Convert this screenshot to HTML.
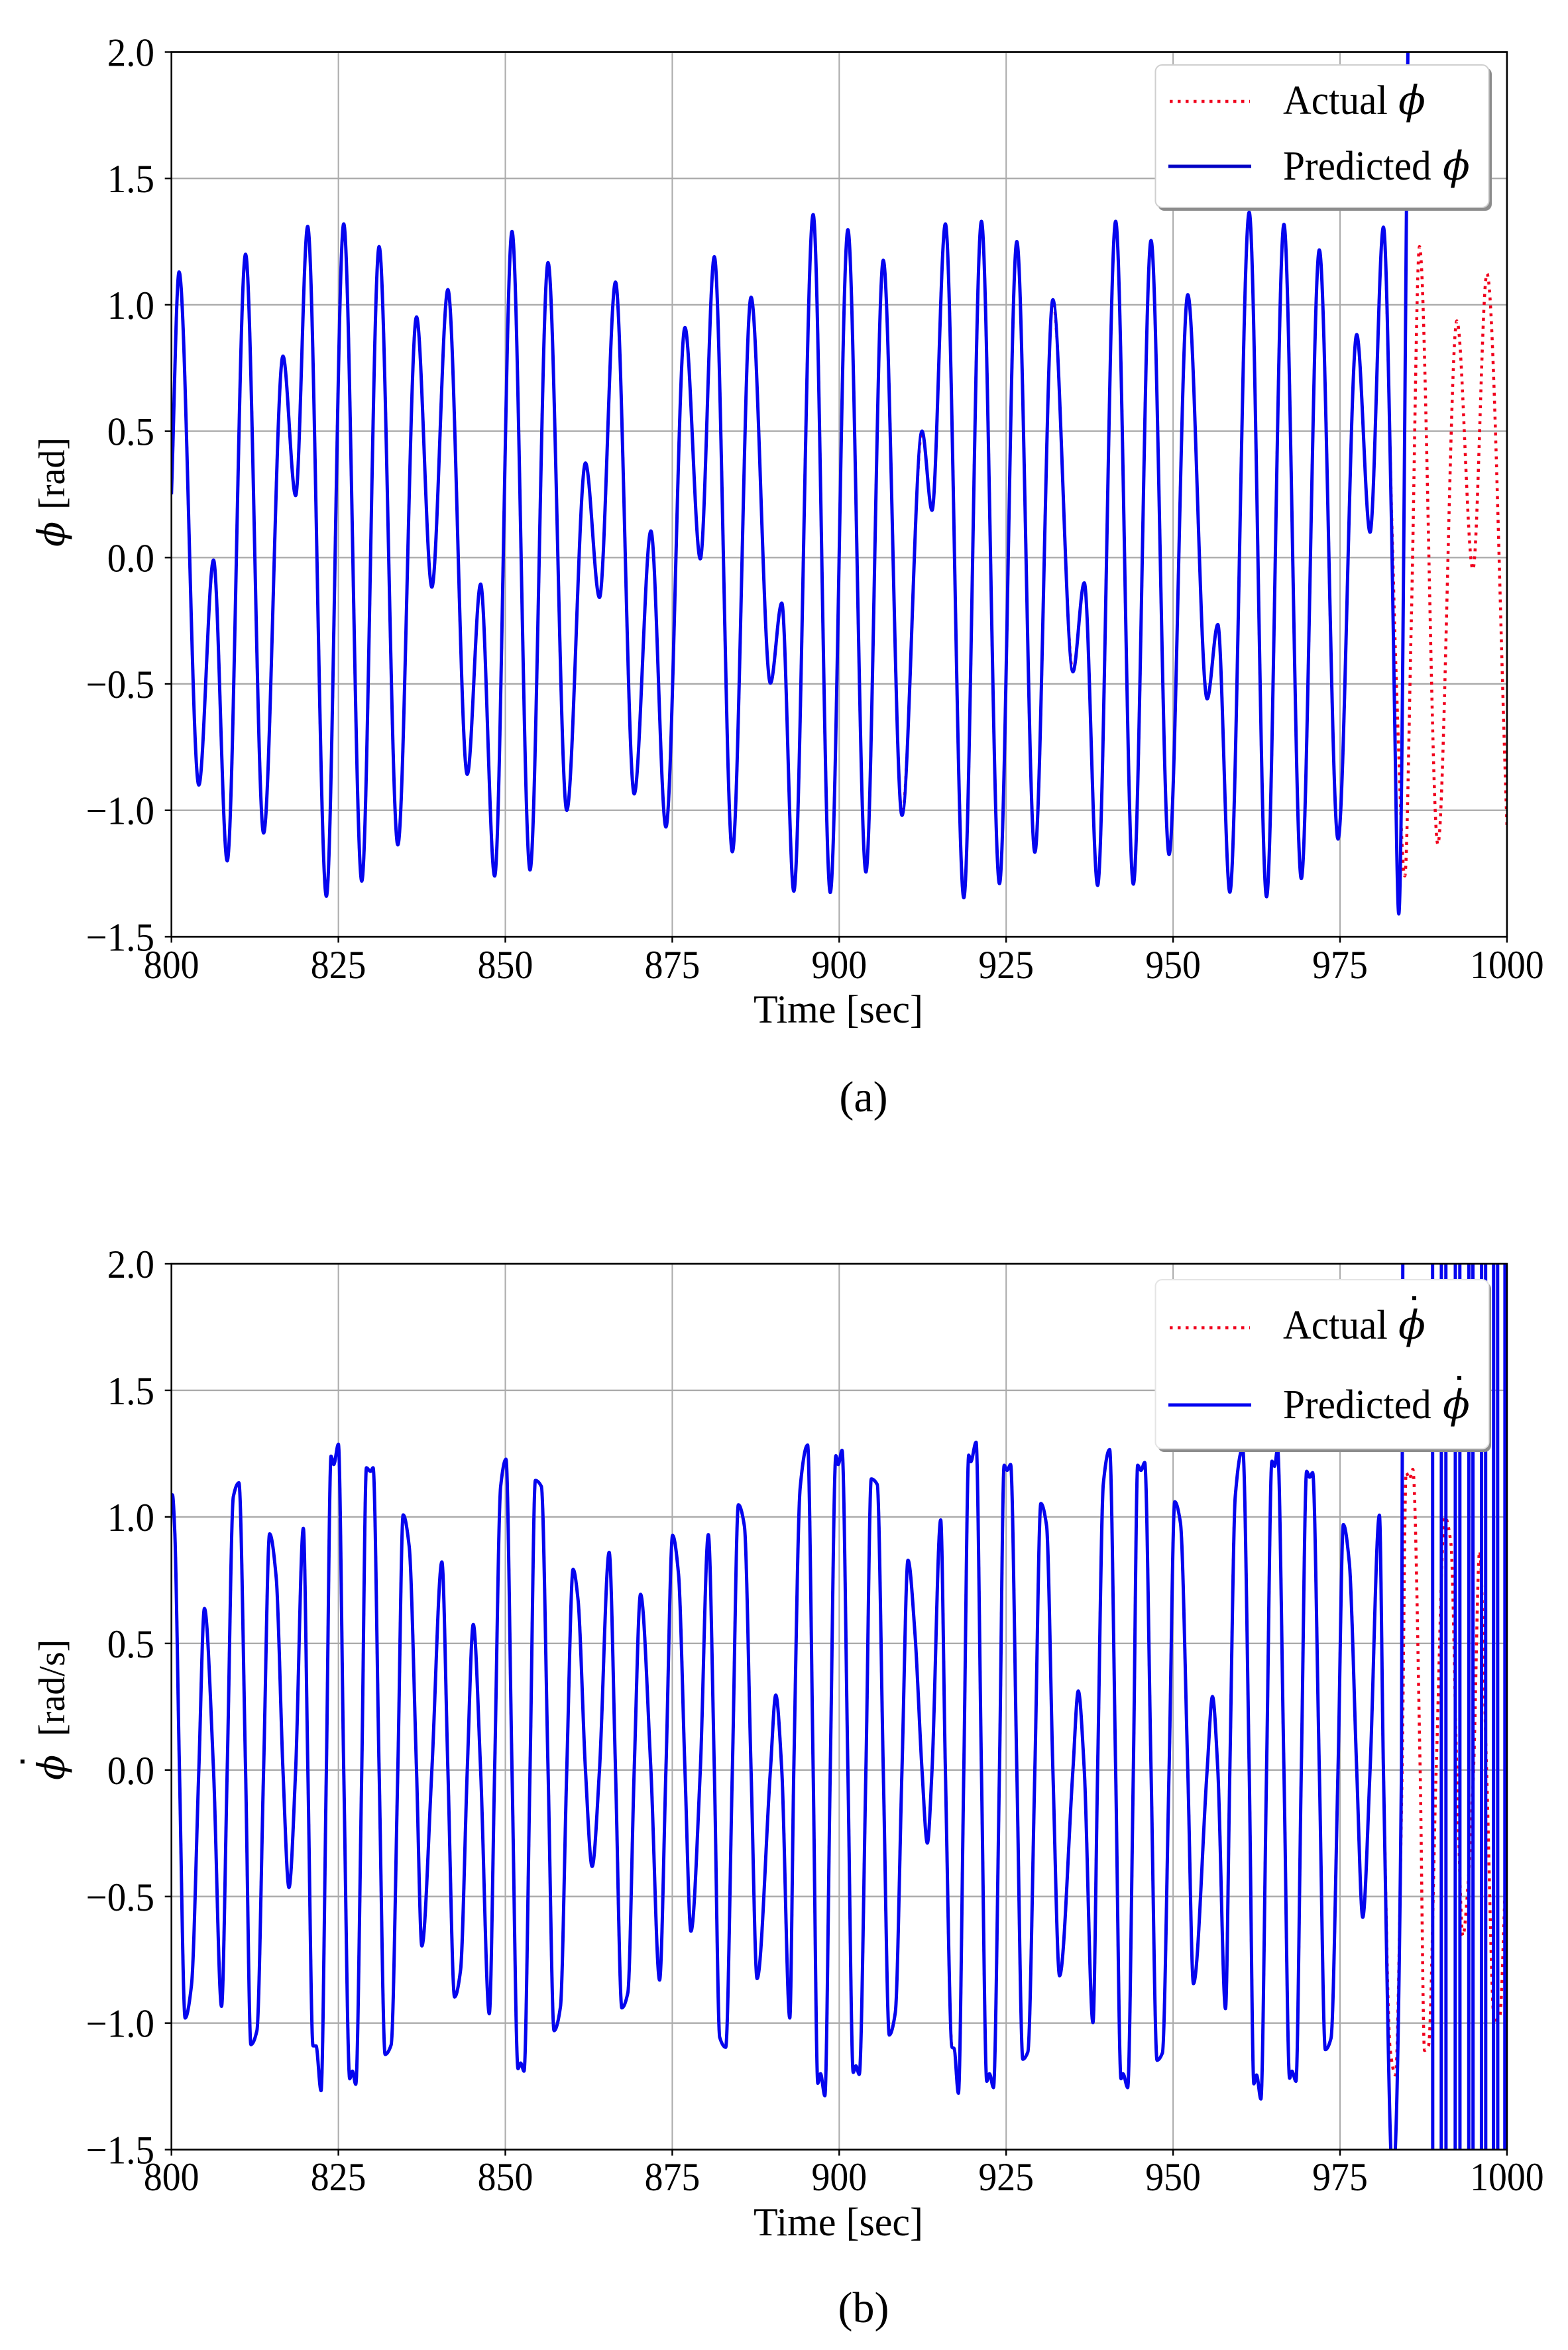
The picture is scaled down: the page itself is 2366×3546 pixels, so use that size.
<!DOCTYPE html>
<html lang="en">
<head>
<meta charset="utf-8">
<title>Actual and predicted roll angle and roll rate</title>
<style>
  html, body { margin: 0; padding: 0; background: #fff; width: 2366px; height: 3546px; overflow: hidden; }
  svg { display: block; overflow: hidden; }
  text { font-family: "Liberation Serif", "DejaVu Serif", serif; fill: #000; }
  .sym { font-family: "DejaVu Serif", "Liberation Serif", serif; font-style: italic; }
</style>
</head>
<body>
<svg id="figure" xmlns="http://www.w3.org/2000/svg" width="2366" height="3546" viewBox="0 0 2366 3546">
  <rect width="2366" height="3546" fill="#fff"/>
  <defs>
    <clipPath id="clip-a"><rect x="258.7" y="78.5" width="2015.2" height="1334.9"/></clipPath>
    <clipPath id="clip-b"><rect x="258.7" y="1907" width="2015.2" height="1336.6"/></clipPath>
  </defs>
  <g id="panel-a"></g>
  <g id="panel-b"></g>

  <g>
    <rect x="1747" y="102" width="504" height="216" rx="10" fill="#8c8c8c"/>
    <rect x="1743.5" y="98" width="503" height="215" rx="10" fill="#fff" stroke="#cfcfcf" stroke-width="2"/>
    <line x1="1765" y1="153" x2="1886" y2="153" stroke="#f0001c" stroke-width="4.5" stroke-dasharray="4.5 7.5"/>
    <text transform="translate(1936,172) scale(0.94,1)" font-size="63">Actual</text>
    <text class="sym" x="2110" y="172" font-size="60">ϕ</text>
    <line x1="1763" y1="251" x2="1888" y2="251" stroke="#0000c4" stroke-width="5"/>
    <text transform="translate(1936,271) scale(0.94,1)" font-size="63">Predicted</text>
    <text class="sym" x="2177" y="271" font-size="60">ϕ</text>
  </g>

  <g>
    <rect x="1747" y="1935" width="503" height="256" rx="10" fill="#8c8c8c"/>
    <rect x="1743.5" y="1931" width="503" height="255" rx="10" fill="#fff" stroke="#e4e4e4" stroke-width="2"/>
    <line x1="1765" y1="2003.5" x2="1886" y2="2003.5" stroke="#f0001c" stroke-width="4.5" stroke-dasharray="4.5 7.5"/>
    <text transform="translate(1936,2020) scale(0.94,1)" font-size="63">Actual</text>
    <text class="sym" x="2110" y="2020" font-size="60">ϕ</text>
    <rect x="2131" y="1956" width="6" height="6" fill="#000"/>
    <line x1="1763" y1="2120" x2="1888" y2="2120" stroke="#0000f0" stroke-width="5"/>
    <text transform="translate(1936,2140) scale(0.94,1)" font-size="63">Predicted</text>
    <text class="sym" x="2177" y="2140" font-size="60">ϕ</text>
    <rect x="2199" y="2076" width="6" height="6" fill="#000"/>
  </g>

  <text x="1303" y="1677" font-size="66" text-anchor="middle">(a)</text>
  <text x="1303" y="3504" font-size="66" text-anchor="middle">(b)</text>
</svg>

<script>
// ---- axis data ----
const timeTicks = [800, 825, 850, 875, 900, 925, 950, 975, 1000];
const valueTicks = [2.0, 1.5, 1.0, 0.5, 0.0, -0.5, -1.0, -1.5];

// ---- phi [rad]: [time, value] ----
// stretch where actual and predicted overlap
const phiShared = [[800,0.25],[801.14,1.13],[804.1,-0.9],[806.3,-0.01],[808.35,-1.2],[811.1,1.2],[813.8,-1.09],[816.7,0.797],[818.6,0.245],[820.4,1.31],[823.2,-1.34],[825.8,1.32],[828.5,-1.28],[831.1,1.23],[833.9,-1.137],[836.7,0.952],[839,-0.117],[841.4,1.06],[844.3,-0.858],[846.3,-0.105],[848.4,-1.26],[851,1.29],[853.7,-1.236],[856.4,1.167],[859.2,-1],[862,0.374],[864.1,-0.158],[866.5,1.09],[869.3,-0.935],[871.8,0.105],[874.05,-1.066],[876.9,0.91],[879.2,-0.005],[881.3,1.19],[884,-1.164],[886.8,1.03],[889.7,-0.497],[891.4,-0.18],[893.2,-1.32],[896.1,1.357],[898.66,-1.325],[901.3,1.297],[904,-1.244],[906.6,1.176],[909.4,-1.02],[912.4,0.5],[913.9,0.187],[915.9,1.32],[918.66,-1.346],[921.3,1.33],[924,-1.29],[926.6,1.25],[929.3,-1.166],[932,1.02],[935,-0.452],[936.7,-0.1],[938.7,-1.297],[941.4,1.33],[944.05,-1.292],[946.7,1.254],[949.4,-1.175],[952.2,1.04],[955.1,-0.559],[956.7,-0.265],[958.5,-1.324],[961.4,1.366],[964,-1.342],[966.6,1.318],[969.2,-1.27],[971.9,1.217],[974.7,-1.114],[977.5,0.882],[979.5,0.1],[981.5,1.307]];
const phiPredictedTail = [[982.75,0.08],[983.1,-0.5],[983.8,-1.41],[985.2,2.1]];
const phiActualTail = [[982.8,0.1],[983.45,-0.5],[984.7,-1.26],[985.67,-0.26],[986.9,1.23],[989.65,-1.134],[992.5,0.936],[994.9,-0.047],[997,1.123],[1000,-1.06]];

// ---- phi-dot [rad/s]: [time, value] ----
const rateShared = [[800,1.05],[800.15,1.087],[800.5,0.94],[801.2,0],[802.05,-0.98],[803,-0.85],[804.1,0],[804.94,0.638],[806.3,0],[807.5,-0.934],[808.35,0],[809.27,1.08],[810.1,1.135],[811.1,0],[811.9,-1.085],[812.8,-1.03],[813.8,0],[814.7,0.933],[815.7,0.757],[816.7,0],[817.6,-0.464],[818.6,0],[819.75,0.955],[820.43,0],[821.2,-1.09],[821.65,-1.09],[822.4,-1.267],[823.2,0],[823.9,1.24],[824.3,1.207],[825,1.287],[825.8,0],[826.7,-1.22],[827.1,-1.19],[827.6,-1.242],[828.5,0],[829.2,1.194],[829.8,1.18],[830.2,1.194],[831.1,0],[832,-1.124],[832.9,-1.086],[833.9,0],[834.7,1.008],[835.6,0.884],[836.7,0],[837.5,-0.695],[839,0],[840.5,0.822],[841.4,0],[842.4,-0.897],[843.3,-0.79],[844.3,0],[845.2,0.575],[846.3,0],[847.6,-0.963],[848.4,0],[849.3,1.12],[850.1,1.228],[851,0],[851.9,-1.18],[852.3,-1.158],[852.8,-1.19],[853.7,0],[854.5,1.144],[855.4,1.12],[856.4,0],[857.3,-1.03],[858.25,-0.937],[859.2,0],[860.15,0.793],[860.9,0.67],[862,0],[863,-0.381],[864.1,0],[865.55,0.86],[866.5,0],[867.45,-0.94],[868.35,-0.88],[869.3,0],[870.25,0.694],[871.8,0],[873.1,-0.83],[874.05,0],[875.05,0.927],[875.95,0.77],[876.9,0],[877.8,-0.637],[879.2,0],[880.4,0.93],[881.3,0],[882.1,-1.056],[883,-1.096],[884,0],[884.9,1.048],[885.8,0.964],[886.8,0],[887.7,-0.824],[889.7,0],[890.5,0.296],[891.4,0],[892.6,-0.98],[893.2,0],[894.16,1.117],[895.27,1.284],[896.1,0],[896.8,-1.238],[897.2,-1.2],[897.85,-1.287],[898.66,0],[899.5,1.242],[899.85,1.207],[900.43,1.263],[901.3,0],[902.1,-1.195],[902.5,-1.169],[903,-1.203],[904,0],[904.8,1.15],[905.7,1.128],[906.6,0],[907.5,-1.047],[908.4,-0.959],[909.4,0],[910.3,0.829],[911.35,0.537],[912.4,0],[913.2,-0.289],[913.9,0],[915.2,0.988],[915.9,0],[916.9,-1.096],[917.2,-1.1],[917.85,-1.277],[918.66,0],[919.4,1.244],[919.7,1.218],[920.5,1.295],[921.3,0],[922.1,-1.23],[922.5,-1.2],[923.1,-1.255],[924,0],[924.7,1.204],[925.15,1.184],[925.67,1.207],[926.6,0],[927.5,-1.143],[928.25,-1.114],[929.3,0],[930.2,1.053],[931.06,0.964],[932,0],[933,-0.813],[935,0],[935.8,0.312],[936.7,0],[938,-0.998],[938.7,0],[939.55,1.13],[940.5,1.266],[941.4,0],[942.2,-1.22],[942.5,-1.2],[943.2,-1.255],[944.05,0],[944.7,1.204],[945.2,1.184],[945.75,1.215],[946.7,0],[947.6,-1.147],[948.4,-1.118],[949.4,0],[950.25,1.06],[951.1,0.977],[952.2,0],[953.05,-0.844],[955.1,0],[955.9,0.29],[956.7,0],[957.85,-0.943],[958.5,0],[959.3,1.077],[960.43,1.27],[961.4,0],[962.1,-1.24],[962.5,-1.205],[963.15,-1.3],[964,0],[964.8,1.22],[965.2,1.2],[965.65,1.27],[966.6,0],[967.45,-1.218],[967.8,-1.19],[968.4,-1.23],[969.2,0],[970,1.18],[970.45,1.157],[970.9,1.175],[971.9,0],[972.8,-1.105],[973.65,-1.06],[974.7,0],[975.5,0.97],[976.4,0.817],[977.5,0],[978.4,-0.582],[979.5,0],[980.9,1.007],[981.5,0]];
const ratePredictedTail = [[982.9,-1.62],[984.2,0],[984.42,2.2],[986.6,4],[988.86,2.2],[988.88,-1.7],[989.5,-2.1],[990.16,-1.7],[990.18,2.2],[990.5,4],[990.85,2.2],[990.87,-1.7],[991.56,-2.1],[992.25,-1.7],[992.27,2.2],[992.6,4],[992.94,2.2],[992.96,-1.7],[993.6,-2.1],[994.28,-1.7],[994.3,2.2],[994.6,4],[994.9,2.2],[994.92,-1.7],[995.55,-2.1],[996.18,-1.7],[996.2,2.2],[996.5,4],[996.8,2.2],[996.82,-1.7],[997.4,-2.1],[997.98,-1.7],[998,2.2],[998.3,4],[998.6,2.2],[998.62,-1.7],[999.15,-2.1],[999.68,-1.7],[999.7,2.2],[1000,4]];
const rateActualTail = [[982.5,-1.1],[983.3,-1.205],[984.3,0],[984.9,1.175],[985.4,1.15],[985.9,1.188],[987,0],[987.65,-1.108],[988.25,-1.09],[989.4,0],[990.7,1],[991.6,0.897],[992.5,0],[993.4,-0.655],[994.15,-0.46],[995,0],[995.9,0.864],[996.95,0],[998.1,-0.99],[998.95,-0.97],[999.55,-0.6],[1000,-0.2]];

// ---- axis functions ----
function xScale(t) { return 258.7 + (t - 800) * 10.076; }
function yScaleA(v) { return 841.3 - v * 381.4; }
function yScaleB(v) { return 2670.8 - v * 381.9; }

const SVG_NS = 'http://www.w3.org/2000/svg';
function make(parent, tag, attrs) {
  const el = document.createElementNS(SVG_NS, tag);
  for (const k in attrs) el.setAttribute(k, attrs[k]);
  parent.appendChild(el);
  return el;
}

// monotone cubic path through the data points
function curvePath(points, yScale) {
  const n = points.length;
  const xs = points.map(p => p[0]);
  const ys = points.map(p => p[1]);
  const h = [], s = [];
  for (let i = 0; i < n - 1; i++) {
    h.push(xs[i + 1] - xs[i]);
    s.push((ys[i + 1] - ys[i]) / h[i]);
  }
  const m = new Array(n).fill(0);
  m[0] = s[0];
  m[n - 1] = s[n - 2];
  for (let i = 1; i < n - 1; i++) {
    if (s[i - 1] * s[i] > 0) {
      const w1 = 2 * h[i] + h[i - 1], w2 = h[i] + 2 * h[i - 1];
      m[i] = (w1 + w2) / (w1 / s[i - 1] + w2 / s[i]);
    }
  }
  let d = 'M' + xScale(xs[0]).toFixed(2) + ' ' + yScale(ys[0]).toFixed(2);
  for (let i = 0; i < n - 1; i++) {
    const c1x = xs[i] + h[i] / 3, c1y = ys[i] + m[i] * h[i] / 3;
    const c2x = xs[i + 1] - h[i] / 3, c2y = ys[i + 1] - m[i + 1] * h[i] / 3;
    d += 'C' + xScale(c1x).toFixed(2) + ' ' + yScale(c1y).toFixed(2) + ' ' +
         xScale(c2x).toFixed(2) + ' ' + yScale(c2y).toFixed(2) + ' ' +
         xScale(xs[i + 1]).toFixed(2) + ' ' + yScale(ys[i + 1]).toFixed(2);
  }
  return d;
}

function valueLabel(v) {
  return v.toFixed(1).replace('-', '\u2212');
}

function drawPanel(group, prefix, yScale, clipId, predicted, actual, xLabelBaseline, xTitleBaseline) {
  const left = xScale(800), right = xScale(1000);
  const top = yScale(2), bottom = yScale(-1.5);

  timeTicks.forEach(function (t) {
    const grid = make(group, 'line', { x1: xScale(t), x2: xScale(t), y1: top, y2: bottom, stroke: '#ababab', 'stroke-width': 2 });
    
    
  });
  valueTicks.forEach(function (v) {
    const grid = make(group, 'line', { x1: left, x2: right, y1: yScale(v), y2: yScale(v), stroke: '#ababab', 'stroke-width': 2.4 });
    
    
  });

  const actualLine = make(group, 'path', { d: curvePath(actual, yScale), fill: 'none', stroke: '#f0001c', 'stroke-width': 4.5, 'stroke-dasharray': '4.5 7.5', 'clip-path': 'url(#' + clipId + ')' });
  
  

  const predictedLine = make(group, 'path', { d: curvePath(predicted, yScale), fill: 'none', stroke: '#0505ee', 'stroke-width': 5, 'stroke-linejoin': 'round', 'clip-path': 'url(#' + clipId + ')' });
  
  

  const frame = make(group, 'rect', { x: left, y: top, width: right - left, height: bottom - top, fill: 'none', stroke: '#000', 'stroke-width': 2.6 });
  
  

  timeTicks.forEach(function (t) {
    const tick = make(group, 'line', { x1: xScale(t), x2: xScale(t), y1: bottom, y2: bottom + 9, stroke: '#000', 'stroke-width': 2.4 });
    
    
    const label = make(group, 'text', { transform: 'translate(' + xScale(t) + ',' + xLabelBaseline + ') scale(0.93,1)', 'font-size': 60, 'text-anchor': 'middle' });
    label.textContent = String(t);
    
    
  });
  valueTicks.forEach(function (v) {
    const tick = make(group, 'line', { x1: left - 10, x2: left, y1: yScale(v), y2: yScale(v), stroke: '#000', 'stroke-width': 2.4 });
    
    
    const label = make(group, 'text', { transform: 'translate(233,' + (yScale(v) + 21) + ') scale(0.95,1)', 'font-size': 60, 'text-anchor': 'end' });
    label.textContent = valueLabel(v);
    
    
  });

  const xTitle = make(group, 'text', { transform: 'translate(1265,' + xTitleBaseline + ') scale(1,1)', 'font-size': 60, 'text-anchor': 'middle' });
  xTitle.textContent = 'Time [sec]';
  
  
}

drawPanel(document.getElementById('panel-a'), 'phi', yScaleA, 'clip-a',
  phiShared.concat(phiPredictedTail), phiShared.concat(phiActualTail), 1476, 1543);
drawPanel(document.getElementById('panel-b'), 'phi-dot', yScaleB, 'clip-b',
  rateShared.concat(ratePredictedTail), rateShared.concat(rateActualTail), 3305, 3373);

// y-axis titles
const groupA = document.getElementById('panel-a');
const groupB = document.getElementById('panel-b');

const yTitleA = make(groupA, 'text', { transform: 'translate(97,825) rotate(-90)', 'font-size': 56 });


const yTitleASym = make(yTitleA, 'tspan', { class: 'sym', 'font-size': 56 });
yTitleASym.textContent = 'ϕ';
const yTitleAUnit = make(yTitleA, 'tspan', { dx: 18 });
yTitleAUnit.textContent = '[rad]';

const yTitleB = make(groupB, 'text', { transform: 'translate(97,2686) rotate(-90)', 'font-size': 56 });


const yTitleBSym = make(yTitleB, 'tspan', { class: 'sym', 'font-size': 56 });
yTitleBSym.textContent = 'ϕ';
const yTitleBUnit = make(yTitleB, 'tspan', { dx: 28 });
yTitleBUnit.textContent = '[rad/s]';

const yTitleBDot = make(groupB, 'rect', { x: 31, y: 2655, width: 6, height: 6, fill: '#000' });


</script>
</body>
</html>
